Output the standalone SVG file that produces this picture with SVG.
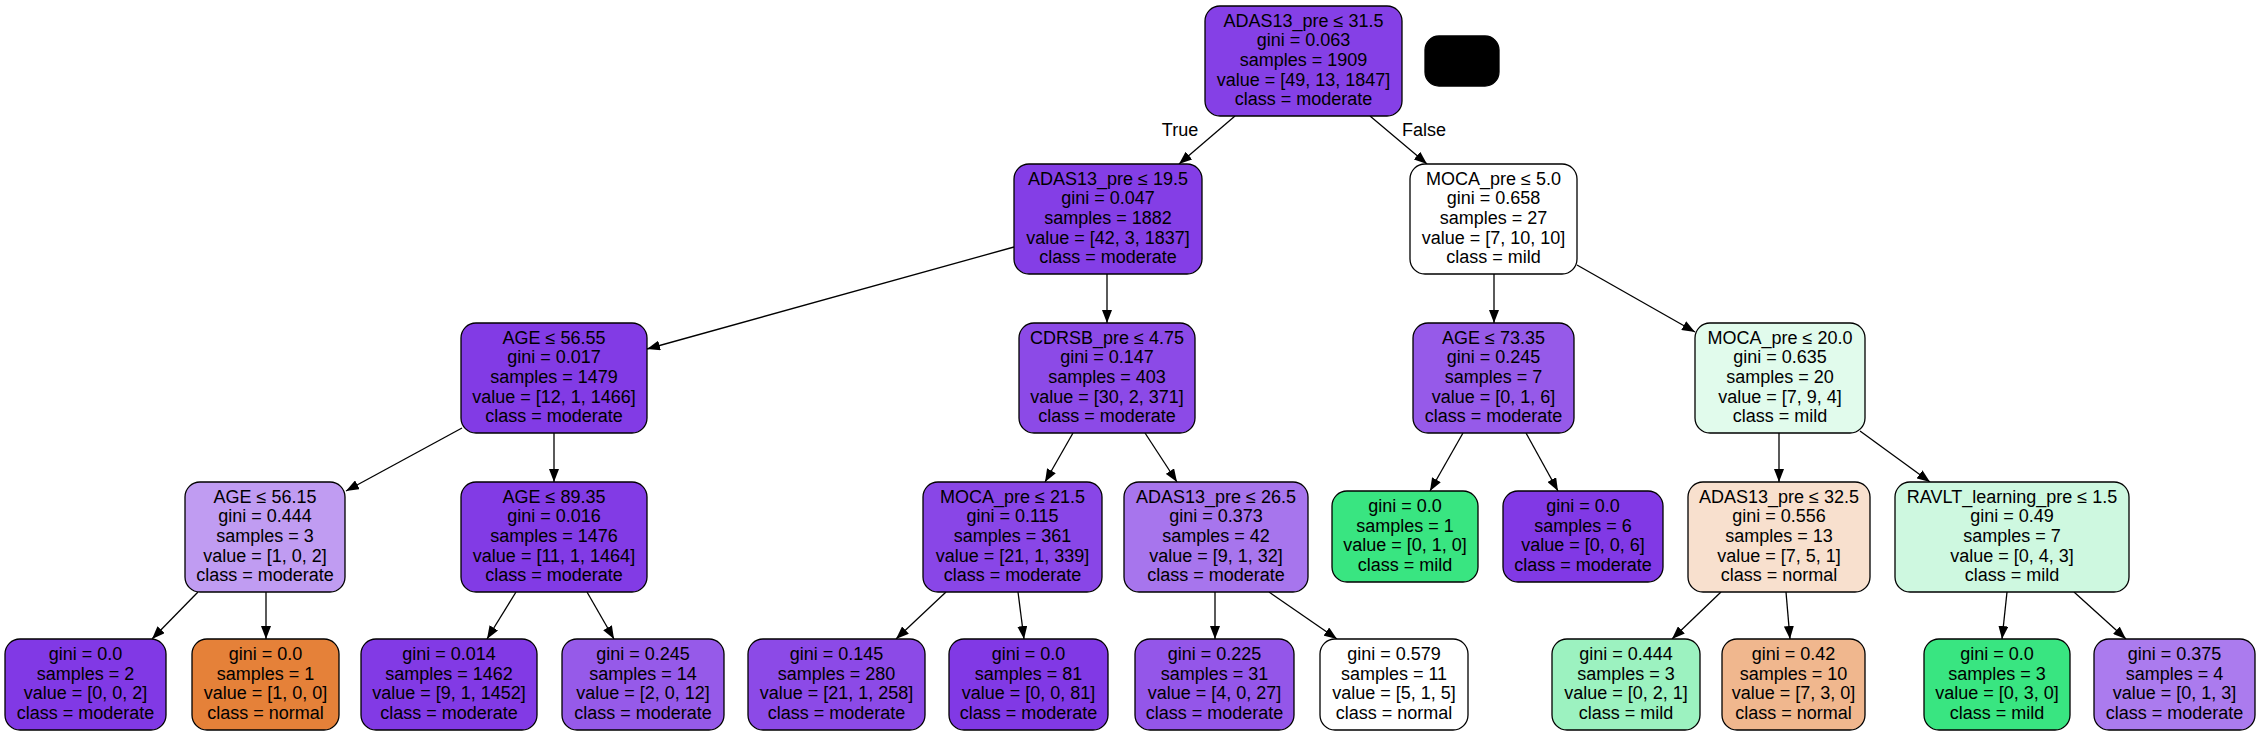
<svg xmlns="http://www.w3.org/2000/svg" width="2261" height="736" viewBox="0 0 2261 736">
<defs>
<style>
.n rect{stroke:#000;stroke-width:1.3}
.n text,.lbl{font-family:"Liberation Sans",Arial,Helvetica,sans-serif;font-size:18px;fill:#000}
.n text{text-anchor:middle}
.e line{stroke:#000;stroke-width:1.3;marker-end:url(#ah)}
</style>
<marker id="ah" viewBox="0 0 13 10" refX="13" refY="5" markerWidth="13" markerHeight="10" markerUnits="userSpaceOnUse" orient="auto">
<path d="M0,0 L13,5 L0,10 z" fill="#000"/>
</marker>
</defs>
<rect width="2261" height="736" fill="#fff"/>
<g id="connectors" class="e">
<line x1="1235" y1="116" x2="1179" y2="164"/>
<line x1="1370" y1="116" x2="1427" y2="164"/>
<line x1="1014" y1="247" x2="647" y2="349"/>
<line x1="1107" y1="274" x2="1107" y2="323"/>
<line x1="1494" y1="274" x2="1494" y2="323"/>
<line x1="1577" y1="265" x2="1695" y2="332"/>
<line x1="462" y1="428" x2="346" y2="491"/>
<line x1="554" y1="433" x2="554" y2="482"/>
<line x1="1073" y1="433" x2="1045" y2="482"/>
<line x1="1145" y1="433" x2="1177" y2="482"/>
<line x1="1463" y1="433" x2="1430" y2="491"/>
<line x1="1526" y1="433" x2="1558" y2="491"/>
<line x1="1779" y1="433" x2="1779" y2="482"/>
<line x1="1860" y1="431" x2="1930" y2="482"/>
<line x1="198" y1="592" x2="152" y2="639"/>
<line x1="266" y1="592" x2="266" y2="639"/>
<line x1="516" y1="592" x2="487" y2="639"/>
<line x1="587" y1="592" x2="614" y2="639"/>
<line x1="946" y1="592" x2="896" y2="639"/>
<line x1="1018" y1="592" x2="1024" y2="639"/>
<line x1="1215" y1="592" x2="1215" y2="639"/>
<line x1="1269" y1="592" x2="1337" y2="639"/>
<line x1="1721" y1="592" x2="1672" y2="639"/>
<line x1="1786" y1="592" x2="1790" y2="639"/>
<line x1="2007" y1="592" x2="2002" y2="639"/>
<line x1="2074" y1="592" x2="2126" y2="639"/>
<text class="lbl" x="1180" y="136" text-anchor="middle">True</text>
<text class="lbl" x="1424" y="136" text-anchor="middle">False</text>
</g>
<g id="n0" class="n"><rect x="1205" y="6" width="197" height="110" rx="15" fill="#8540e6"/>
<text x="1303.5" y="26.5">ADAS13_pre ≤ 31.5<tspan x="1303.5" dy="19.7">gini = 0.063</tspan><tspan x="1303.5" dy="19.7">samples = 1909</tspan><tspan x="1303.5" dy="19.7">value = [49, 13, 1847]</tspan><tspan x="1303.5" dy="19.7">class = moderate</tspan></text></g>
<g id="nblack" class="n"><rect x="1425" y="36" width="74" height="50" rx="14" fill="#000"/></g>
<g id="n1" class="n"><rect x="1014" y="164" width="188" height="110" rx="15" fill="#843ee6"/>
<text x="1108" y="184.5">ADAS13_pre ≤ 19.5<tspan x="1108" dy="19.7">gini = 0.047</tspan><tspan x="1108" dy="19.7">samples = 1882</tspan><tspan x="1108" dy="19.7">value = [42, 3, 1837]</tspan><tspan x="1108" dy="19.7">class = moderate</tspan></text></g>
<g id="n2" class="n"><rect x="1410" y="164" width="167" height="110" rx="15" fill="#ffffff"/>
<text x="1493.5" y="184.5">MOCA_pre ≤ 5.0<tspan x="1493.5" dy="19.7">gini = 0.658</tspan><tspan x="1493.5" dy="19.7">samples = 27</tspan><tspan x="1493.5" dy="19.7">value = [7, 10, 10]</tspan><tspan x="1493.5" dy="19.7">class = mild</tspan></text></g>
<g id="n3" class="n"><rect x="461" y="323" width="186" height="110" rx="15" fill="#823be5"/>
<text x="554" y="343.5">AGE ≤ 56.55<tspan x="554" dy="19.7">gini = 0.017</tspan><tspan x="554" dy="19.7">samples = 1479</tspan><tspan x="554" dy="19.7">value = [12, 1, 1466]</tspan><tspan x="554" dy="19.7">class = moderate</tspan></text></g>
<g id="n4" class="n"><rect x="1019" y="323" width="176" height="110" rx="15" fill="#8c4ae7"/>
<text x="1107" y="343.5">CDRSB_pre ≤ 4.75<tspan x="1107" dy="19.7">gini = 0.147</tspan><tspan x="1107" dy="19.7">samples = 403</tspan><tspan x="1107" dy="19.7">value = [30, 2, 371]</tspan><tspan x="1107" dy="19.7">class = moderate</tspan></text></g>
<g id="n5" class="n"><rect x="1413" y="323" width="161" height="110" rx="15" fill="#965ae9"/>
<text x="1493.5" y="343.5">AGE ≤ 73.35<tspan x="1493.5" dy="19.7">gini = 0.245</tspan><tspan x="1493.5" dy="19.7">samples = 7</tspan><tspan x="1493.5" dy="19.7">value = [0, 1, 6]</tspan><tspan x="1493.5" dy="19.7">class = moderate</tspan></text></g>
<g id="n6" class="n"><rect x="1695" y="323" width="170" height="110" rx="15" fill="#e1fbec"/>
<text x="1780" y="343.5">MOCA_pre ≤ 20.0<tspan x="1780" dy="19.7">gini = 0.635</tspan><tspan x="1780" dy="19.7">samples = 20</tspan><tspan x="1780" dy="19.7">value = [7, 9, 4]</tspan><tspan x="1780" dy="19.7">class = mild</tspan></text></g>
<g id="n7" class="n"><rect x="185" y="482" width="160" height="110" rx="15" fill="#c09cf2"/>
<text x="265" y="502.5">AGE ≤ 56.15<tspan x="265" dy="19.7">gini = 0.444</tspan><tspan x="265" dy="19.7">samples = 3</tspan><tspan x="265" dy="19.7">value = [1, 0, 2]</tspan><tspan x="265" dy="19.7">class = moderate</tspan></text></g>
<g id="n8" class="n"><rect x="461" y="482" width="186" height="110" rx="15" fill="#823be5"/>
<text x="554" y="502.5">AGE ≤ 89.35<tspan x="554" dy="19.7">gini = 0.016</tspan><tspan x="554" dy="19.7">samples = 1476</tspan><tspan x="554" dy="19.7">value = [11, 1, 1464]</tspan><tspan x="554" dy="19.7">class = moderate</tspan></text></g>
<g id="n9" class="n"><rect x="923" y="482" width="179" height="110" rx="15" fill="#8946e7"/>
<text x="1012.5" y="502.5">MOCA_pre ≤ 21.5<tspan x="1012.5" dy="19.7">gini = 0.115</tspan><tspan x="1012.5" dy="19.7">samples = 361</tspan><tspan x="1012.5" dy="19.7">value = [21, 1, 339]</tspan><tspan x="1012.5" dy="19.7">class = moderate</tspan></text></g>
<g id="n10" class="n"><rect x="1124" y="482" width="184" height="110" rx="15" fill="#a775ed"/>
<text x="1216" y="502.5">ADAS13_pre ≤ 26.5<tspan x="1216" dy="19.7">gini = 0.373</tspan><tspan x="1216" dy="19.7">samples = 42</tspan><tspan x="1216" dy="19.7">value = [9, 1, 32]</tspan><tspan x="1216" dy="19.7">class = moderate</tspan></text></g>
<g id="n11" class="n"><rect x="1332" y="491" width="146" height="91" rx="15" fill="#39e581"/>
<text x="1405" y="512">gini = 0.0<tspan x="1405" dy="19.7">samples = 1</tspan><tspan x="1405" dy="19.7">value = [0, 1, 0]</tspan><tspan x="1405" dy="19.7">class = mild</tspan></text></g>
<g id="n12" class="n"><rect x="1503" y="491" width="160" height="91" rx="15" fill="#8139e5"/>
<text x="1583" y="512">gini = 0.0<tspan x="1583" dy="19.7">samples = 6</tspan><tspan x="1583" dy="19.7">value = [0, 0, 6]</tspan><tspan x="1583" dy="19.7">class = moderate</tspan></text></g>
<g id="n13" class="n"><rect x="1688" y="482" width="182" height="110" rx="15" fill="#f8e0ce"/>
<text x="1779" y="502.5">ADAS13_pre ≤ 32.5<tspan x="1779" dy="19.7">gini = 0.556</tspan><tspan x="1779" dy="19.7">samples = 13</tspan><tspan x="1779" dy="19.7">value = [7, 5, 1]</tspan><tspan x="1779" dy="19.7">class = normal</tspan></text></g>
<g id="n14" class="n"><rect x="1895" y="482" width="234" height="110" rx="15" fill="#cef8e0"/>
<text x="2012" y="502.5">RAVLT_learning_pre ≤ 1.5<tspan x="2012" dy="19.7">gini = 0.49</tspan><tspan x="2012" dy="19.7">samples = 7</tspan><tspan x="2012" dy="19.7">value = [0, 4, 3]</tspan><tspan x="2012" dy="19.7">class = mild</tspan></text></g>
<g id="n15" class="n"><rect x="5" y="639" width="161" height="91" rx="15" fill="#8139e5"/>
<text x="85.5" y="660">gini = 0.0<tspan x="85.5" dy="19.7">samples = 2</tspan><tspan x="85.5" dy="19.7">value = [0, 0, 2]</tspan><tspan x="85.5" dy="19.7">class = moderate</tspan></text></g>
<g id="n16" class="n"><rect x="192" y="639" width="147" height="91" rx="15" fill="#e58139"/>
<text x="265.5" y="660">gini = 0.0<tspan x="265.5" dy="19.7">samples = 1</tspan><tspan x="265.5" dy="19.7">value = [1, 0, 0]</tspan><tspan x="265.5" dy="19.7">class = normal</tspan></text></g>
<g id="n17" class="n"><rect x="361" y="639" width="176" height="91" rx="15" fill="#823ae5"/>
<text x="449" y="660">gini = 0.014<tspan x="449" dy="19.7">samples = 1462</tspan><tspan x="449" dy="19.7">value = [9, 1, 1452]</tspan><tspan x="449" dy="19.7">class = moderate</tspan></text></g>
<g id="n18" class="n"><rect x="562" y="639" width="162" height="91" rx="15" fill="#965ae9"/>
<text x="643" y="660">gini = 0.245<tspan x="643" dy="19.7">samples = 14</tspan><tspan x="643" dy="19.7">value = [2, 0, 12]</tspan><tspan x="643" dy="19.7">class = moderate</tspan></text></g>
<g id="n19" class="n"><rect x="748" y="639" width="177" height="91" rx="15" fill="#8c4ae7"/>
<text x="836.5" y="660">gini = 0.145<tspan x="836.5" dy="19.7">samples = 280</tspan><tspan x="836.5" dy="19.7">value = [21, 1, 258]</tspan><tspan x="836.5" dy="19.7">class = moderate</tspan></text></g>
<g id="n20" class="n"><rect x="949" y="639" width="159" height="91" rx="15" fill="#8139e5"/>
<text x="1028.5" y="660">gini = 0.0<tspan x="1028.5" dy="19.7">samples = 81</tspan><tspan x="1028.5" dy="19.7">value = [0, 0, 81]</tspan><tspan x="1028.5" dy="19.7">class = moderate</tspan></text></g>
<g id="n21" class="n"><rect x="1135" y="639" width="159" height="91" rx="15" fill="#9456e9"/>
<text x="1214.5" y="660">gini = 0.225<tspan x="1214.5" dy="19.7">samples = 31</tspan><tspan x="1214.5" dy="19.7">value = [4, 0, 27]</tspan><tspan x="1214.5" dy="19.7">class = moderate</tspan></text></g>
<g id="n22" class="n"><rect x="1320" y="639" width="148" height="91" rx="15" fill="#ffffff"/>
<text x="1394" y="660">gini = 0.579<tspan x="1394" dy="19.7">samples = 11</tspan><tspan x="1394" dy="19.7">value = [5, 1, 5]</tspan><tspan x="1394" dy="19.7">class = normal</tspan></text></g>
<g id="n23" class="n"><rect x="1552" y="639" width="148" height="91" rx="15" fill="#9cf2c0"/>
<text x="1626" y="660">gini = 0.444<tspan x="1626" dy="19.7">samples = 3</tspan><tspan x="1626" dy="19.7">value = [0, 2, 1]</tspan><tspan x="1626" dy="19.7">class = mild</tspan></text></g>
<g id="n24" class="n"><rect x="1722" y="639" width="143" height="91" rx="15" fill="#f0b78e"/>
<text x="1793.5" y="660">gini = 0.42<tspan x="1793.5" dy="19.7">samples = 10</tspan><tspan x="1793.5" dy="19.7">value = [7, 3, 0]</tspan><tspan x="1793.5" dy="19.7">class = normal</tspan></text></g>
<g id="n25" class="n"><rect x="1924" y="639" width="146" height="91" rx="15" fill="#39e581"/>
<text x="1997" y="660">gini = 0.0<tspan x="1997" dy="19.7">samples = 3</tspan><tspan x="1997" dy="19.7">value = [0, 3, 0]</tspan><tspan x="1997" dy="19.7">class = mild</tspan></text></g>
<g id="n26" class="n"><rect x="2094" y="639" width="161" height="91" rx="15" fill="#ab7bee"/>
<text x="2174.5" y="660">gini = 0.375<tspan x="2174.5" dy="19.7">samples = 4</tspan><tspan x="2174.5" dy="19.7">value = [0, 1, 3]</tspan><tspan x="2174.5" dy="19.7">class = moderate</tspan></text></g>
</svg>
